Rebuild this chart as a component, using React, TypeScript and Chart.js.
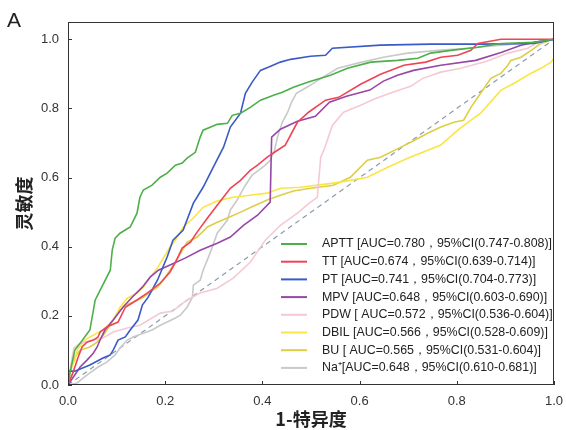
import React, { useEffect, useRef } from 'react';
import { Chart, registerables } from 'chart.js';

Chart.register(...registerables);

const X_TICKS = [0, 0.2, 0.4, 0.6, 0.8, 1.0];
const Y_TICKS = [0, 0.2, 0.4, 0.6, 0.8, 1.0];

const SERIES_NAMES = ['APTT', 'TT', 'PT', 'MPV', 'PDW', 'DBIL', 'BU', 'Na⁺'];
const LEGEND_SUFFIX = [
  ' [AUC=0.780，95%CI(0.747-0.808)]',
  ' [AUC=0.674，95%CI(0.639-0.714)]',
  ' [AUC=0.741，95%CI(0.704-0.773)]',
  ' [AUC=0.648，95%CI(0.603-0.690)]',
  ' [ AUC=0.572，95%CI(0.536-0.604)]',
  ' [AUC=0.566，95%CI(0.528-0.609)]',
  ' [ AUC=0.565，95%CI(0.531-0.604)]',
  '[AUC=0.648，95%CI(0.610-0.681)]',
];
const SERIES_COLORS = ['#4daf4a', '#ef4455', '#3a5bc7', '#9747a6', '#f5c9d3', '#fae542', '#dccf45', '#c9c9c9'];

const APTT_FPR = [0, 0.004, 0.014, 0.025, 0.045, 0.056, 0.087, 0.091, 0.097, 0.107, 0.128, 0.132, 0.142, 0.148, 0.155, 0.173, 0.190, 0.204, 0.221, 0.235, 0.245, 0.262, 0.272, 0.278, 0.307, 0.328, 0.338, 0.355, 0.375, 0.396, 0.423, 0.441, 0.464, 0.493, 0.540, 0.575, 0.623, 0.678, 0.720, 0.746, 0.788, 0.843, 0.891, 0.959, 1.0];
const APTT_TPR = [0, 0.035, 0.101, 0.121, 0.159, 0.246, 0.332, 0.390, 0.425, 0.439, 0.457, 0.468, 0.497, 0.543, 0.564, 0.578, 0.601, 0.613, 0.636, 0.642, 0.656, 0.673, 0.717, 0.737, 0.754, 0.757, 0.780, 0.786, 0.803, 0.824, 0.838, 0.847, 0.861, 0.876, 0.896, 0.916, 0.934, 0.939, 0.945, 0.960, 0.968, 0.977, 0.988, 0.991, 1.0];

const TT_FPR = [0, 0.010, 0.021, 0.029, 0.039, 0.052, 0.062, 0.066, 0.080, 0.103, 0.118, 0.142, 0.163, 0.190, 0.210, 0.221, 0.235, 0.252, 0.266, 0.287, 0.307, 0.334, 0.355, 0.375, 0.390, 0.410, 0.431, 0.447, 0.472, 0.495, 0.530, 0.557, 0.602, 0.643, 0.691, 0.736, 0.767, 0.802, 0.829, 0.843, 0.891, 1.0];
const TT_TPR = [0, 0.035, 0.081, 0.110, 0.124, 0.130, 0.139, 0.153, 0.168, 0.182, 0.225, 0.246, 0.266, 0.295, 0.327, 0.355, 0.396, 0.413, 0.443, 0.483, 0.520, 0.569, 0.592, 0.621, 0.636, 0.659, 0.679, 0.694, 0.760, 0.789, 0.824, 0.832, 0.870, 0.899, 0.925, 0.934, 0.948, 0.954, 0.968, 0.988, 1.0, 1.0];

const PT_FPR = [0, 0, 0.014, 0.045, 0.072, 0.087, 0.093, 0.103, 0.118, 0.128, 0.144, 0.153, 0.165, 0.184, 0.204, 0.216, 0.237, 0.258, 0.278, 0.299, 0.320, 0.334, 0.355, 0.365, 0.379, 0.396, 0.412, 0.437, 0.458, 0.499, 0.530, 0.544, 0.643, 0.746, 0.849, 0.959, 1.0];
const PT_TPR = [0, 0.040, 0.040, 0.058, 0.078, 0.087, 0.101, 0.130, 0.139, 0.159, 0.188, 0.231, 0.254, 0.303, 0.370, 0.419, 0.448, 0.526, 0.572, 0.630, 0.688, 0.746, 0.786, 0.844, 0.876, 0.910, 0.919, 0.934, 0.942, 0.951, 0.954, 0.974, 0.983, 0.986, 0.986, 0.988, 1.0];

const MPV_FPR = [0, 0.025, 0.039, 0.052, 0.060, 0.066, 0.076, 0.093, 0.113, 0.132, 0.153, 0.169, 0.186, 0.210, 0.241, 0.272, 0.307, 0.334, 0.361, 0.390, 0.416, 0.419, 0.437, 0.472, 0.509, 0.538, 0.573, 0.621, 0.649, 0.678, 0.711, 0.767, 0.839, 0.891, 0.932, 0.959, 1.0];
const MPV_TPR = [0, 0.052, 0.072, 0.092, 0.110, 0.130, 0.159, 0.188, 0.225, 0.254, 0.283, 0.312, 0.332, 0.347, 0.367, 0.390, 0.410, 0.428, 0.462, 0.491, 0.529, 0.717, 0.740, 0.763, 0.777, 0.818, 0.835, 0.853, 0.879, 0.896, 0.910, 0.925, 0.939, 0.962, 0.983, 0.991, 1.0];

const PDW_FPR = [0, 0.006, 0.012, 0.025, 0.052, 0.072, 0.093, 0.122, 0.148, 0.190, 0.216, 0.245, 0.272, 0.307, 0.340, 0.375, 0.406, 0.437, 0.472, 0.499, 0.513, 0.520, 0.528, 0.544, 0.567, 0.602, 0.633, 0.668, 0.705, 0.730, 0.767, 0.808, 0.860, 0.905, 0.946, 0.963, 1.0];
const PDW_TPR = [0, 0.058, 0.107, 0.121, 0.130, 0.136, 0.153, 0.165, 0.173, 0.208, 0.214, 0.246, 0.266, 0.280, 0.309, 0.355, 0.419, 0.462, 0.497, 0.529, 0.543, 0.659, 0.685, 0.751, 0.789, 0.809, 0.829, 0.847, 0.864, 0.887, 0.905, 0.916, 0.936, 0.960, 0.974, 0.988, 1.0];

const DBIL_FPR = [0, 0.004, 0.014, 0.019, 0.035, 0.045, 0.060, 0.072, 0.087, 0.097, 0.107, 0.122, 0.142, 0.155, 0.169, 0.184, 0.196, 0.210, 0.221, 0.237, 0.258, 0.278, 0.307, 0.340, 0.375, 0.410, 0.437, 0.478, 0.546, 0.581, 0.616, 0.658, 0.699, 0.726, 0.767, 0.802, 0.829, 0.849, 0.891, 0.918, 0.953, 0.973, 0.994, 1.0, 1.0];
const DBIL_TPR = [0, 0.043, 0.072, 0.101, 0.130, 0.139, 0.150, 0.159, 0.179, 0.197, 0.225, 0.251, 0.266, 0.283, 0.312, 0.338, 0.367, 0.399, 0.419, 0.457, 0.483, 0.514, 0.532, 0.543, 0.549, 0.555, 0.569, 0.572, 0.584, 0.592, 0.601, 0.630, 0.656, 0.671, 0.694, 0.737, 0.766, 0.786, 0.853, 0.873, 0.902, 0.916, 0.934, 0.945, 1.0];

const BU_FPR = [0, 0.004, 0.014, 0.025, 0.045, 0.060, 0.070, 0.080, 0.093, 0.103, 0.118, 0.134, 0.155, 0.169, 0.184, 0.196, 0.210, 0.227, 0.245, 0.266, 0.287, 0.307, 0.328, 0.355, 0.381, 0.410, 0.437, 0.464, 0.499, 0.546, 0.581, 0.616, 0.643, 0.685, 0.705, 0.740, 0.767, 0.794, 0.814, 0.829, 0.849, 0.870, 0.891, 0.905, 0.911, 0.932, 0.953, 0.973, 1.0];
const BU_TPR = [0, 0.035, 0.081, 0.101, 0.110, 0.124, 0.139, 0.159, 0.188, 0.211, 0.231, 0.240, 0.254, 0.269, 0.283, 0.303, 0.332, 0.370, 0.413, 0.428, 0.457, 0.471, 0.483, 0.500, 0.517, 0.535, 0.549, 0.561, 0.569, 0.578, 0.601, 0.650, 0.659, 0.688, 0.702, 0.728, 0.746, 0.760, 0.766, 0.803, 0.844, 0.887, 0.902, 0.925, 0.939, 0.948, 0.968, 0.988, 1.0];

const NA_FPR = [0, 0.019, 0.031, 0.045, 0.062, 0.080, 0.097, 0.107, 0.122, 0.134, 0.155, 0.173, 0.190, 0.204, 0.221, 0.231, 0.245, 0.256, 0.258, 0.272, 0.278, 0.289, 0.297, 0.307, 0.328, 0.334, 0.348, 0.365, 0.379, 0.392, 0.406, 0.416, 0.425, 0.431, 0.441, 0.452, 0.460, 0.470, 0.495, 0.524, 0.555, 0.596, 0.649, 0.699, 0.761, 0.823, 0.891, 0.959, 1.0];
const NA_TPR = [0, 0.006, 0.020, 0.035, 0.052, 0.066, 0.087, 0.107, 0.130, 0.139, 0.150, 0.159, 0.173, 0.182, 0.194, 0.202, 0.225, 0.254, 0.289, 0.303, 0.332, 0.370, 0.399, 0.439, 0.477, 0.506, 0.535, 0.578, 0.607, 0.621, 0.636, 0.650, 0.679, 0.717, 0.760, 0.789, 0.818, 0.844, 0.864, 0.890, 0.916, 0.931, 0.948, 0.960, 0.968, 0.974, 0.983, 0.991, 1.0];

const REF_FPR = [0, 1];
const REF_TPR = [0, 1];

const SERIES_FPR = [APTT_FPR, TT_FPR, PT_FPR, MPV_FPR, PDW_FPR, DBIL_FPR, BU_FPR, NA_FPR];
const SERIES_TPR = [APTT_TPR, TT_TPR, PT_TPR, MPV_TPR, PDW_TPR, DBIL_TPR, BU_TPR, NA_TPR];

const TICK_FONT = '"Liberation Sans", Arial, Helvetica, sans-serif';
const CJK_FONT = '"Noto Sans CJK SC", "Noto Sans", sans-serif';

const toPoints = (xs: number[], ys: number[]) => xs.map((x, i) => ({ x, y: ys[i] }));

const decorPlugin = {
  id: 'decor',
  afterDraw(chart: any) {
    const { ctx, chartArea: ca, scales } = chart;
    const xs = scales.x;
    const ys = scales.y;
    ctx.save();
    // frame
    ctx.strokeStyle = '#333333';
    ctx.lineWidth = 1;
    ctx.strokeRect(ca.left + 0.5, ca.top + 0.5, ca.right - ca.left - 1, ca.bottom - ca.top - 1);
    // inward ticks
    ctx.beginPath();
    X_TICKS.forEach((v) => {
      const px = Math.round(xs.getPixelForValue(v)) + 0.5;
      ctx.moveTo(px, ca.bottom);
      ctx.lineTo(px, ca.bottom - 4);
    });
    Y_TICKS.forEach((v) => {
      const py = Math.round(ys.getPixelForValue(v)) + 0.5;
      ctx.moveTo(ca.left, py);
      ctx.lineTo(ca.left + 4, py);
    });
    ctx.stroke();

    // legend
    const lx0 = ca.right - 273;
    const lx1 = ca.right - 247;
    const tx = ca.right - 232;
    const y0 = ca.top + 222;
    const step = 17.7;
    ctx.font = '12.4px ' + TICK_FONT;
    ctx.textBaseline = 'middle';
    ctx.textAlign = 'left';
    SERIES_NAMES.forEach((name, i) => {
      const y = y0 + i * step;
      ctx.strokeStyle = SERIES_COLORS[i];
      ctx.lineWidth = 2;
      ctx.beginPath();
      ctx.moveTo(lx0, y);
      ctx.lineTo(lx1, y);
      ctx.stroke();
      ctx.fillStyle = '#222222';
      ctx.fillText(name + LEGEND_SUFFIX[i], tx, y);
    });

    // panel letter
    ctx.fillStyle = '#222222';
    ctx.font = '21px ' + TICK_FONT;
    ctx.textBaseline = 'alphabetic';
    ctx.fillText('A', 7, 27);
    ctx.restore();
  },
};

export default function App() {
  const canvasRef = useRef<HTMLCanvasElement | null>(null);

  useEffect(() => {
    document.body.style.margin = '0';
    const canvas = canvasRef.current;
    if (!canvas) return;

    const datasets: any[] = SERIES_NAMES.map((name, i) => ({
      label: name,
      data: toPoints(SERIES_FPR[i], SERIES_TPR[i]),
      borderColor: SERIES_COLORS[i],
      backgroundColor: SERIES_COLORS[i],
      borderWidth: 1.6,
      pointRadius: 0,
      tension: 0,
      fill: false,
    }));
    datasets.push({
      label: 'reference',
      data: toPoints(REF_FPR, REF_TPR),
      borderColor: '#8a9bb0',
      borderWidth: 1.2,
      borderDash: [5, 4],
      pointRadius: 0,
      fill: false,
    });

    const chart = new Chart(canvas, {
      type: 'line',
      data: { datasets },
      options: {
        animation: false,
        responsive: false,
        devicePixelRatio: 1,
        layout: { padding: { left: 0, top: 22, right: 12, bottom: 0 } },
        plugins: {
          legend: { display: false },
          tooltip: { enabled: false },
        },
        scales: {
          x: {
            type: 'linear',
            min: 0,
            max: 1,
            grid: { display: false, drawTicks: false },
            border: { display: false },
            ticks: {
              padding: 9,
              color: '#333333',
              font: { family: TICK_FONT, size: 13 },
              maxRotation: 0,
              autoSkip: false,
              callback: (v: any) => Number(v).toFixed(1),
            },
            afterBuildTicks: (s: any) => {
              s.ticks = X_TICKS.map((v) => ({ value: v }));
            },
            afterFit: (s: any) => {
              s.height = 45;
              s.paddingLeft = 0;
              s.paddingRight = 0;
            },
            title: {
              display: true,
              text: '1-特异度',
              color: '#222222',
              font: { family: CJK_FONT, size: 18, weight: 'bold', lineHeight: 1.2 },
              padding: { top: 0, bottom: 0 },
            },
          },
          y: {
            type: 'linear',
            min: 0,
            max: 1.05,
            grid: { display: false, drawTicks: false },
            border: { display: false },
            ticks: {
              padding: 9,
              color: '#333333',
              font: { family: TICK_FONT, size: 13 },
              autoSkip: false,
              callback: (v: any) => Number(v).toFixed(1),
            },
            afterBuildTicks: (s: any) => {
              s.ticks = Y_TICKS.map((v) => ({ value: v }));
            },
            afterFit: (s: any) => {
              s.width = 68;
              s.paddingTop = 0;
              s.paddingBottom = 0;
            },
            title: {
              display: true,
              text: '灵敏度',
              color: '#222222',
              font: { family: CJK_FONT, size: 18, weight: 'bold', lineHeight: 1.2 },
              padding: { top: 13, bottom: 0 },
            },
          },
        },
      },
      plugins: [decorPlugin],
    } as any);

    return () => chart.destroy();
  }, []);

  return (
    <div style={{ position: 'absolute', left: 0, top: 0, width: 566, height: 430 }}>
      <canvas ref={canvasRef} width={566} height={430} style={{ width: 566, height: 430, display: 'block' }} />
    </div>
  );
}
